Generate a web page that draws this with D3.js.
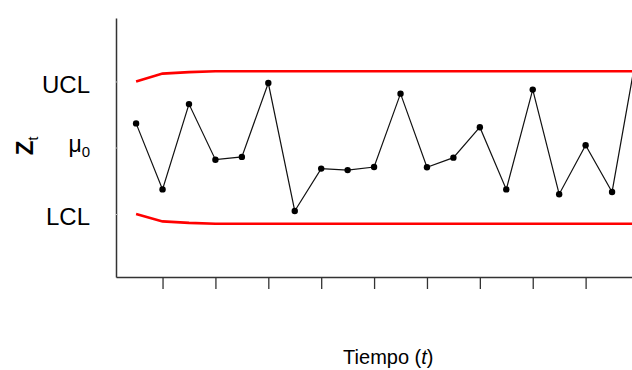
<!DOCTYPE html>
<html>
<head>
<meta charset="utf-8">
<script src="https://cdn.jsdelivr.net/npm/d3@7"></script>
<style>
  html, body { margin: 0; padding: 0; background: #fff; }
  svg { display: block; font-family: "Liberation Sans", Arial, sans-serif; }
</style>
</head>
<body>
<svg id="chart" width="632" height="370"></svg>
<script>
// EWMA statistic per sample (in units of sigma around mu0)
const time = [1, 2, 3, 4, 5, 6, 7, 8, 9, 10, 11, 12, 13, 14, 15, 16, 17, 18, 19, 20];
const zValues = [0.95, -1.65, 1.71, -0.48, -0.37, 2.54, -2.50, -0.83, -0.89, -0.77,
                 2.12, -0.78, -0.40, 0.80, -1.65, 2.28, -1.84, 0.09, -1.75, 4.11];
// Upper and lower control limits, widening towards their steady-state value
const ucl = [2.60, 2.91, 2.97, 3.00, 3.00, 3.00, 3.00, 3.00, 3.00, 3.00,
             3.00, 3.00, 3.00, 3.00, 3.00, 3.00, 3.00, 3.00, 3.00, 3.00];
const lcl = [-2.62, -2.91, -2.97, -3.00, -3.00, -3.00, -3.00, -3.00, -3.00, -3.00,
             -3.00, -3.00, -3.00, -3.00, -3.00, -3.00, -3.00, -3.00, -3.00, -3.00];
// Axis ticks
const xTicks = [2, 4, 6, 8, 10, 12, 14, 16, 18, 20];
const yTickLabels = ["LCL", "μ", "UCL"];
const yTicks = [lcl[0], 0, ucl[0]];

const svg = d3.select("#chart");

const x = d3.scaleLinear().domain([0.24, 20.76]).range([116, 658.6]);
const y = d3.scaleLinear().domain([-5.1, 5.1]).range([277, 18]);

// x axis (no labels)
const xAxis = svg.append("g")
  .attr("transform", `translate(0,${y.range()[0]})`)
  .call(d3.axisBottom(x).tickValues(xTicks).tickFormat("").tickSize(12).tickSizeOuter(0));
xAxis.select(".domain").attr("stroke", "#333").attr("stroke-width", 1.5);
xAxis.selectAll(".tick line").attr("stroke", "#333").attr("stroke-width", 1.3);

// y axis with symbolic labels
const yAxis = svg.append("g")
  .attr("transform", `translate(${x.range()[0]},0)`)
  .call(d3.axisLeft(y).tickValues(yTicks)
    .tickFormat((d, i) => yTickLabels[i])
    .tickSizeInner(-2).tickSizeOuter(0).tickPadding(26));
yAxis.select(".domain").attr("stroke", "#333").attr("stroke-width", 1.5);
yAxis.selectAll(".tick line").attr("stroke", "#bbb").attr("stroke-width", 1);
yAxis.selectAll(".tick text")
  .attr("fill", "#000")
  .attr("font-size", 24)
  .attr("font-family", "\"Liberation Sans\", Arial, sans-serif")
  .attr("dy", "0.45em");

// mu0 label: Greek mu with subscript zero
yAxis.selectAll(".tick text").filter((d, i) => i === 1)
  .attr("font-size", 23)
  .attr("dx", 0)
  .attr("dy", "0.19em")
  .append("tspan")
  .attr("font-size", 15)
  .attr("dy", 5)
  .text("0");

// control limits
const limitLine = d3.line().x((d, i) => x(time[i])).y(d => y(d));
svg.append("path").datum(ucl)
  .attr("d", limitLine).attr("fill", "none")
  .attr("stroke", "#ff0000").attr("stroke-width", 2.6);
svg.append("path").datum(lcl)
  .attr("d", limitLine).attr("fill", "none")
  .attr("stroke", "#ff0000").attr("stroke-width", 2.6);

// EWMA series
svg.append("path").datum(zValues)
  .attr("d", limitLine).attr("fill", "none")
  .attr("stroke", "#111").attr("stroke-width", 1.2);
svg.append("g").selectAll("circle")
  .data(zValues).join("circle")
  .attr("cx", (d, i) => x(time[i]))
  .attr("cy", d => y(d))
  .attr("r", 3.2)
  .attr("fill", "#000");

// axis titles
svg.append("text")
  .attr("x", (x.range()[0] + x.range()[1]) / 2 + 1)
  .attr("y", 364)
  .attr("text-anchor", "middle")
  .attr("font-size", 20)
  .attr("fill", "#000")
  .text("Tiempo (")
  .call(t => t.append("tspan").attr("font-style", "italic").text("t"))
  .call(t => t.append("tspan").text(")"));

svg.append("text")
  .attr("transform", "translate(33,146) rotate(-90)")
  .attr("text-anchor", "middle")
  .attr("fill", "#000")
  .call(t => t.append("tspan").attr("font-size", 24).attr("font-weight", "bold").text("Z"))
  .call(t => t.append("tspan").attr("font-size", 14).attr("dy", 5).text("t"));
</script>
</body>
</html>
